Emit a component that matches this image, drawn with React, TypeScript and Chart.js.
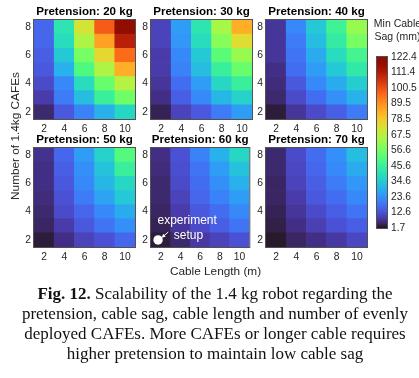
import React, { useEffect, useRef } from 'react';
import { Chart, registerables } from 'chart.js';

Chart.register(...registerables);

// ---------------- data ----------------
const CABLE_LENGTHS = [2, 4, 6, 8, 10];
const CAFE_COUNTS = [2, 3, 4, 5, 6, 7, 8];
const X_TICKS = [2, 4, 6, 8, 10];
const Y_TICKS = [2, 4, 6, 8];
const PRETENSIONS = [20, 30, 40, 50, 60, 70];

// min cable sag (mm); rows = CAFE count 2..8, columns = cable length 2..10 m
const SAG_20KG = [
  [5.3, 13.8, 21.0, 29.5, 37.9],
  [8.9, 19.8, 31.9, 45.2, 56.0],
  [11.4, 22.2, 39.1, 54.8, 66.9],
  [13.8, 29.5, 50.0, 65.7, 83.8],
  [15.0, 34.3, 57.2, 75.3, 95.8],
  [16.2, 39.1, 65.7, 86.2, 110.3],
  [16.2, 41.5, 71.7, 98.3, 122.4],
];
const SAG_30KG = [
  [4.1, 10.1, 13.8, 19.8, 25.8],
  [6.5, 15.0, 22.2, 30.7, 36.7],
  [7.7, 17.4, 25.8, 37.9, 45.2],
  [8.9, 21.0, 31.9, 45.2, 54.8],
  [8.9, 22.2, 34.3, 52.4, 62.1],
  [10.1, 24.6, 39.1, 59.6, 74.1],
  [10.1, 25.8, 41.5, 64.5, 83.8],
];
const SAG_40KG = [
  [2.9, 7.7, 11.4, 15.0, 19.8],
  [5.3, 11.4, 17.4, 23.4, 29.5],
  [5.9, 13.8, 22.2, 28.3, 35.5],
  [6.5, 17.4, 25.8, 34.3, 42.7],
  [7.7, 18.6, 28.3, 39.1, 47.6],
  [7.7, 19.8, 31.9, 43.9, 57.2],
  [7.7, 22.2, 34.3, 46.4, 62.1],
];
const SAG_50KG = [
  [2.9, 6.5, 10.1, 12.6, 16.2],
  [4.7, 8.9, 13.8, 18.6, 23.4],
  [5.3, 11.4, 16.2, 22.2, 28.3],
  [5.9, 12.6, 19.8, 27.0, 34.3],
  [6.5, 13.8, 22.2, 30.7, 37.9],
  [6.5, 15.0, 23.4, 33.1, 45.2],
  [7.1, 16.2, 25.8, 36.7, 51.2],
];
const SAG_60KG = [
  [2.9, 5.3, 8.3, 10.1, 12.6],
  [4.1, 7.7, 11.4, 15.0, 18.6],
  [4.7, 8.9, 13.8, 17.4, 22.2],
  [5.3, 10.1, 16.2, 21.0, 25.8],
  [5.3, 11.4, 17.4, 23.4, 29.5],
  [5.9, 12.0, 18.6, 25.8, 33.1],
  [6.5, 12.6, 21.0, 29.5, 37.9],
];
const SAG_70KG = [
  [2.3, 4.7, 6.5, 8.3, 10.8],
  [3.5, 6.5, 9.5, 12.6, 15.0],
  [4.1, 7.7, 11.4, 15.0, 18.6],
  [4.7, 8.9, 13.8, 17.4, 22.2],
  [4.7, 10.1, 15.0, 19.8, 24.6],
  [5.3, 10.8, 16.2, 22.2, 28.3],
  [5.3, 11.4, 17.4, 23.4, 31.9],
];
const SAG_TABLES = [SAG_20KG, SAG_30KG, SAG_40KG, SAG_50KG, SAG_60KG, SAG_70KG];

const SAG_MIN = 1.7;
const SAG_MAX = 122.4;
const COLORBAR_TICKS = [1.7, 12.6, 23.6, 34.6, 45.6, 56.6, 67.5, 78.5, 89.5, 100.5, 111.4, 122.4];

const EXPERIMENT_POINT = { x: 1.72, y: 2.0 };
const EXPERIMENT_PANEL = 4;

// ---------------- layout / style ----------------
const SANS = "'Liberation Sans', Arial, Helvetica, sans-serif";
const SERIF = "'Liberation Serif', 'Times New Roman', serif";
const TICK_COLOR = '#262626';
const PANEL_LEFTS = [34, 151, 266];
const PANEL_TOPS = [20, 148];
const PLOT_W = 101;
const PLOT_H = 99;
const Y_AXIS_W = 20;
const TITLE_H = 18;
const X_AXIS_H = 18;
const RIGHT_PAD = 2;

function clamp255(v: number) {
  return Math.max(0, Math.min(255, Math.round(v * 255)));
}
function turbo(t: number) {
  t = Math.min(1, Math.max(0, t));
  const r = 0.13572138 + t * (4.6153926 + t * (-42.66032258 + t * (132.13108234 + t * (-152.94239396 + t * 59.28637943))));
  const g = 0.09140261 + t * (2.19418839 + t * (4.84296658 + t * (-14.18503333 + t * (4.27729857 + t * 2.82956604))));
  const b = 0.1066733 + t * (12.64194608 + t * (-60.58204836 + t * (110.36276771 + t * (-89.90310912 + t * 27.34824973))));
  return `rgb(${clamp255(r)},${clamp255(g)},${clamp255(b)})`;
}
function sagColor(v: number) {
  return turbo((v - SAG_MIN) / (SAG_MAX - SAG_MIN));
}

const framePlugin = {
  id: 'frame',
  afterDatasetsDraw(chart: any) {
    const { ctx, chartArea: a } = chart;
    ctx.save();
    ctx.strokeStyle = 'rgba(38,38,38,0.8)';
    ctx.lineWidth = 1;
    ctx.strokeRect(a.left - 0.5, a.top - 0.5, a.right - a.left + 1, a.bottom - a.top + 1);
    ctx.restore();
  },
};

const annotationPlugin = {
  id: 'experimentNote',
  afterDatasetsDraw(chart: any) {
    const x = chart.scales.x;
    const y = chart.scales.y;
    const ctx = chart.ctx;
    ctx.save();
    ctx.fillStyle = '#ffffff';
    ctx.strokeStyle = '#ffffff';
    ctx.font = `12px ${SANS}`;
    ctx.textBaseline = 'middle';
    ctx.textAlign = 'left';
    ctx.fillText('experiment', x.getPixelForValue(1.66), y.getPixelForValue(3.34));
    ctx.fillText('setup', x.getPixelForValue(3.31), y.getPixelForValue(2.29));
    const x1 = x.getPixelForValue(2.75), y1 = y.getPixelForValue(2.55);
    const x2 = x.getPixelForValue(2.1), y2 = y.getPixelForValue(2.17);
    ctx.lineWidth = 1;
    ctx.beginPath();
    ctx.moveTo(x1, y1);
    ctx.lineTo(x2, y2);
    ctx.stroke();
    const ang = Math.atan2(y2 - y1, x2 - x1);
    const L = 4;
    ctx.beginPath();
    ctx.moveTo(x2, y2);
    ctx.lineTo(x2 - L * Math.cos(ang - 0.5), y2 - L * Math.sin(ang - 0.5));
    ctx.lineTo(x2 - L * Math.cos(ang + 0.5), y2 - L * Math.sin(ang + 0.5));
    ctx.closePath();
    ctx.fill();
    ctx.restore();
  },
};

function Panel({ index }: { index: number }) {
  const ref = useRef<HTMLCanvasElement>(null);
  const col = index % 3;
  const row = Math.floor(index / 3);
  const left = PANEL_LEFTS[col] - Y_AXIS_W;
  const top = PANEL_TOPS[row] - TITLE_H;
  const width = Y_AXIS_W + PLOT_W + RIGHT_PAD;
  const height = TITLE_H + PLOT_H + X_AXIS_H;

  useEffect(() => {
    const table = SAG_TABLES[index];
    const datasets: any[] = CAFE_COUNTS.map((n, r) => ({
      type: 'bar',
      data: CABLE_LENGTHS.map((len) => ({ x: len, y: [n - 0.5, n + 0.5] })),
      backgroundColor: table[r].map((v) => sagColor(v)),
      borderWidth: 0,
      grouped: false,
      barPercentage: 1,
      categoryPercentage: 1,
      order: 1,
    }));
    if (index === EXPERIMENT_PANEL) {
      datasets.push({
        type: 'scatter',
        data: [EXPERIMENT_POINT],
        pointRadius: 4.7,
        backgroundColor: '#ffffff',
        borderColor: '#ffffff',
        borderWidth: 0,
        order: -1,
      });
    }
    const tickFont = { family: SANS, size: 10.3 };
    const chart = new Chart(ref.current as HTMLCanvasElement, {
      type: 'bar',
      data: { datasets },
      options: {
        responsive: false,
        animation: false,
        events: [],
        layout: { padding: { top: 0, right: RIGHT_PAD, bottom: 0, left: 0 } },
        plugins: {
          legend: { display: false },
          tooltip: { enabled: false },
          title: {
            display: true,
            text: `Pretension: ${PRETENSIONS[index]} kg`,
            fullSize: false,
            color: '#000000',
            font: { family: SANS, size: 11.6, weight: 'bold', lineHeight: '15px' },
            padding: { top: 2, bottom: 1 },
          },
        },
        scales: {
          x: {
            type: 'linear',
            min: 1,
            max: 11,
            offset: false,
            grid: { display: false, drawTicks: false },
            border: { display: false },
            ticks: { color: TICK_COLOR, font: tickFont, padding: 4, maxRotation: 0, autoSkip: false },
            afterBuildTicks: (s: any) => {
              s.ticks = X_TICKS.map((v) => ({ value: v }));
            },
            afterFit: (s: any) => {
              s.height = X_AXIS_H;
            },
          },
          y: {
            type: 'linear',
            min: 1.5,
            max: 8.5,
            grid: { display: false, drawTicks: false },
            border: { display: false },
            ticks: { color: TICK_COLOR, font: tickFont, padding: 3, autoSkip: false },
            afterBuildTicks: (s: any) => {
              s.ticks = Y_TICKS.map((v) => ({ value: v }));
            },
            afterFit: (s: any) => {
              s.width = Y_AXIS_W;
            },
          },
        },
      } as any,
      plugins: index === EXPERIMENT_PANEL ? [framePlugin, annotationPlugin] : [framePlugin],
    });
    return () => chart.destroy();
  }, [index]);

  return (
    <canvas
      ref={ref}
      width={width}
      height={height}
      style={{ position: 'absolute', left, top, width, height }}
    />
  );
}

function ColorBar() {
  const ref = useRef<HTMLCanvasElement>(null);
  const left = 376;
  const top = 45;
  const width = 43;
  const height = 195;
  useEffect(() => {
    const chart = new Chart(ref.current as HTMLCanvasElement, {
      type: 'bar',
      data: {
        labels: [''],
        datasets: [
          {
            data: [[SAG_MIN, SAG_MAX]],
            backgroundColor: (c: any) => {
              const ca = c.chart.chartArea;
              if (!ca) return '#000';
              const g = c.chart.ctx.createLinearGradient(0, ca.bottom, 0, ca.top);
              for (let k = 0; k <= 32; k++) g.addColorStop(k / 32, turbo(k / 32));
              return g;
            },
            borderWidth: 0,
            barPercentage: 1,
            categoryPercentage: 1,
          } as any,
        ],
      },
      options: {
        responsive: false,
        animation: false,
        events: [],
        layout: { padding: { top: 12, bottom: 12, left: 1, right: 0 } },
        plugins: { legend: { display: false }, tooltip: { enabled: false } },
        scales: {
          x: { display: false },
          y: {
            position: 'right',
            min: SAG_MIN,
            max: SAG_MAX,
            grid: { display: false, drawTicks: false },
            border: { display: false },
            ticks: {
              color: TICK_COLOR,
              font: { family: SANS, size: 10.3 },
              padding: 4,
              autoSkip: false,
              callback: (v: any) => Number(v).toFixed(1),
            },
            afterBuildTicks: (s: any) => {
              s.ticks = COLORBAR_TICKS.map((v) => ({ value: v }));
            },
            afterFit: (s: any) => {
              s.width = 32;
            },
          },
        },
      } as any,
      plugins: [framePlugin],
    });
    return () => chart.destroy();
  }, []);
  return (
    <canvas ref={ref} width={width} height={height} style={{ position: 'absolute', left, top, width, height }} />
  );
}

export default function App() {
  return (
    <div
      style={{
        position: 'fixed',
        left: 0,
        top: 0,
        width: 419,
        height: 378,
        overflow: 'hidden',
        background: '#ffffff',
      }}
    >
      {PRETENSIONS.map((_, i) => (
        <Panel key={i} index={i} />
      ))}
      <ColorBar />
      <div
        style={{
          position: 'absolute',
          left: 15 - 90,
          top: 136 - 7,
          width: 180,
          height: 14,
          lineHeight: '14px',
          textAlign: 'center',
          transform: 'rotate(-90deg)',
          fontFamily: SANS,
          fontSize: 11.8,
          color: TICK_COLOR,
          whiteSpace: 'nowrap',
        }}
      >
        Number of 1.4kg CAFEs
      </div>
      <div
        style={{
          position: 'absolute',
          left: 215.5 - 90,
          top: 264,
          width: 180,
          lineHeight: '14px',
          textAlign: 'center',
          fontFamily: SANS,
          fontSize: 11.8,
          color: TICK_COLOR,
          whiteSpace: 'nowrap',
        }}
      >
        Cable Length (m)
      </div>
      <div
        style={{
          position: 'absolute',
          left: 397.5 - 40,
          top: 16.6,
          width: 80,
          lineHeight: '13.4px',
          textAlign: 'center',
          fontFamily: SANS,
          fontSize: 10.5,
          color: TICK_COLOR,
          whiteSpace: 'nowrap',
        }}
      >
        Min Cable
        <br />
        Sag (mm)
      </div>
      <div
        style={{
          position: 'absolute',
          left: 11,
          top: 284,
          width: 408,
          lineHeight: '20px',
          textAlign: 'center',
          fontFamily: SERIF,
          fontSize: 17,
          color: '#111111',
          whiteSpace: 'nowrap',
        }}
      >
        <b>Fig. 12.</b> Scalability of the 1.4 kg robot regarding the
        <br />
        pretension, cable sag, cable length and number of evenly
        <br />
        deployed CAFEs. More CAFEs or longer cable requires
        <br />
        higher pretension to maintain low cable sag
      </div>
    </div>
  );
}
